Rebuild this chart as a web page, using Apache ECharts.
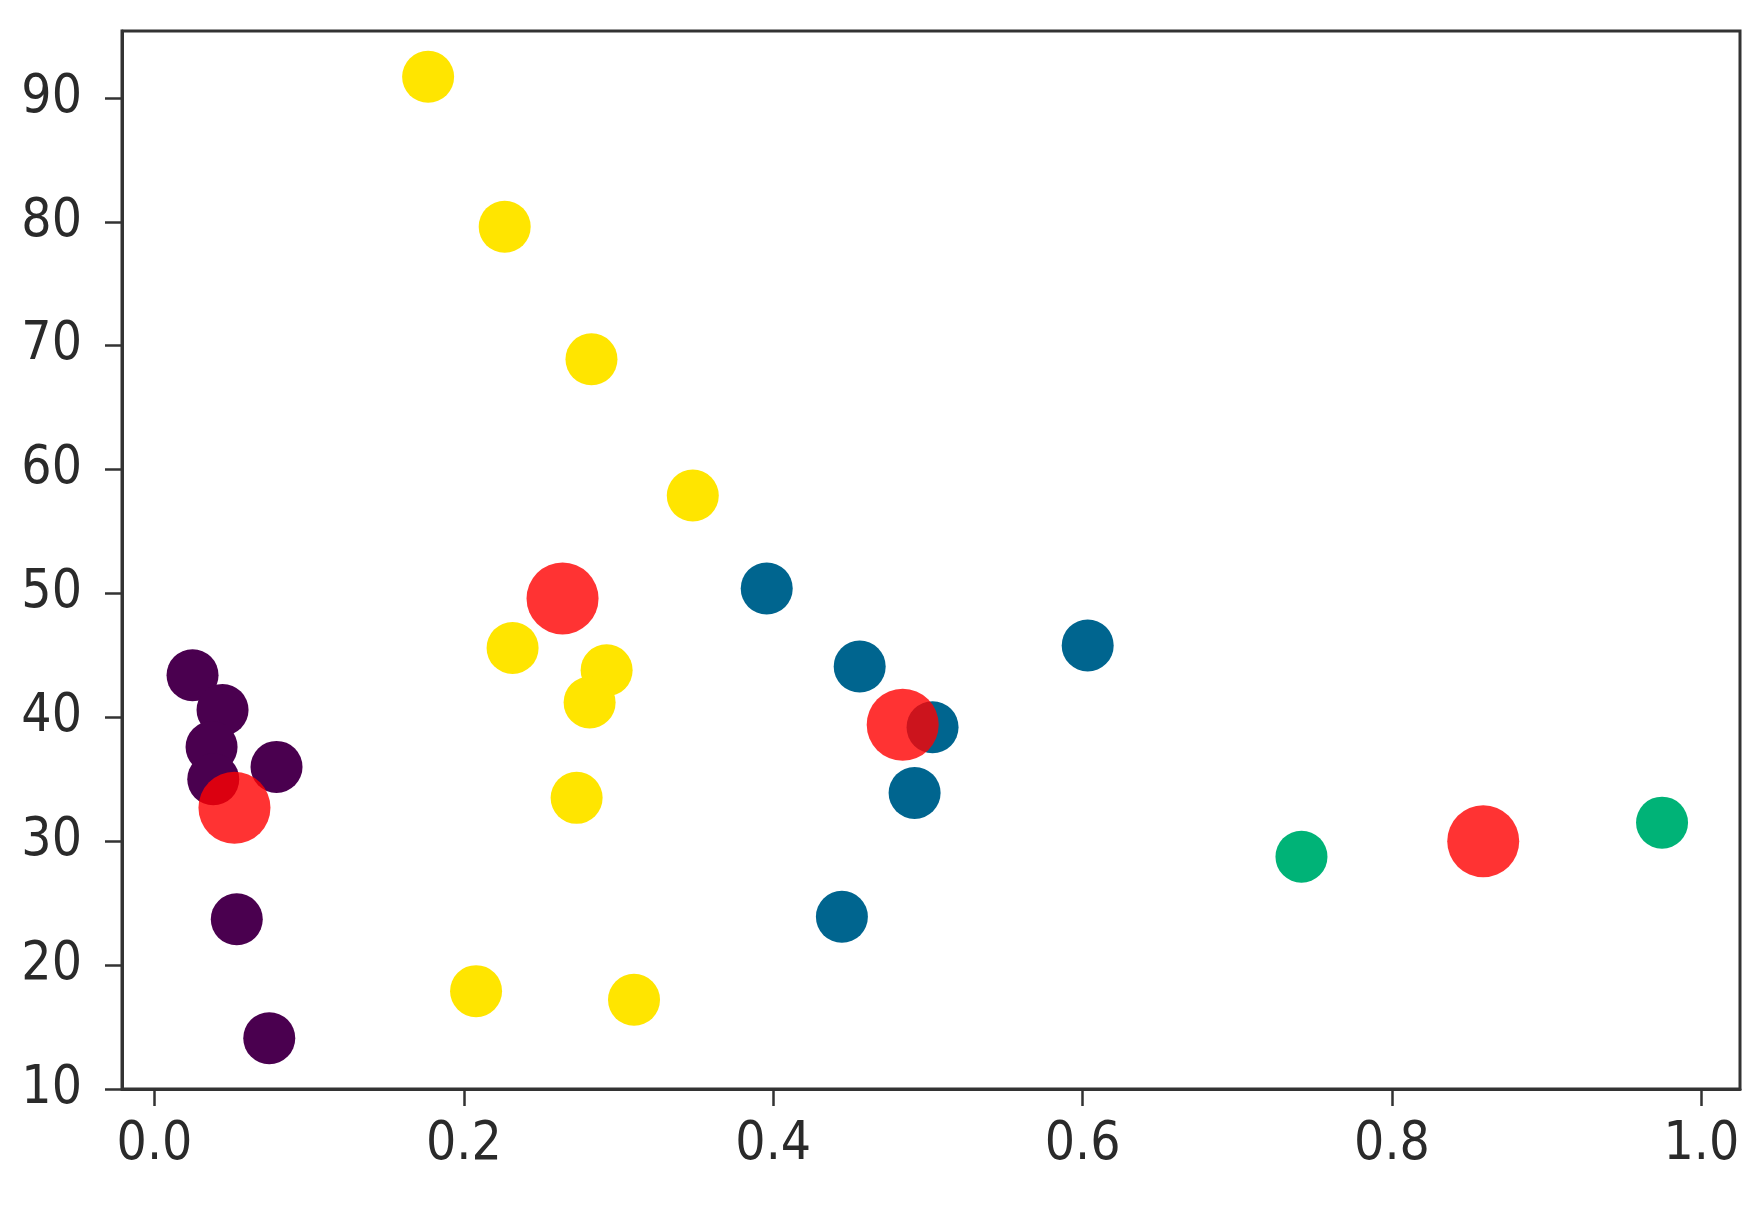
<!DOCTYPE html>
<html>
<head>
<meta charset="utf-8">
<script src="https://cdn.jsdelivr.net/npm/echarts@6/dist/echarts.min.js"></script>
<style>
html,body{margin:0;padding:0;background:#fff;}
#chart{width:1761px;height:1215px;}
</style>
</head>
<body>
<div id="chart"></div>
<script>
// Cluster points [x, y]
const cluster0 = [[0.0246, 43.4], [0.044, 40.6], [0.0369, 37.6], [0.038, 35.0], [0.0789, 36.0], [0.0532, 23.7], [0.0742, 14.1]];
const cluster1 = [[0.3958, 50.4], [0.4559, 44.1], [0.6033, 45.8], [0.503, 39.2], [0.4914, 33.9], [0.4444, 23.9]];
const cluster2 = [[0.7415, 28.75], [0.9746, 31.5]];
const cluster3 = [[0.1769, 91.7], [0.2264, 79.6], [0.2825, 68.9], [0.348, 57.9], [0.2315, 45.6], [0.2923, 43.8], [0.2813, 41.2], [0.2729, 33.5], [0.2079, 17.9], [0.310, 17.2]];
const centroids = [[0.0517, 32.7], [0.2638, 49.6], [0.4837, 39.4], [0.859, 30.0]];
const xTicks = [0, 0.2, 0.4, 0.6, 0.8, 1.0];
const yTicks = [10, 20, 30, 40, 50, 60, 70, 80, 90];

const chart = echarts.init(document.getElementById('chart'), null, {renderer: 'canvas'});
const labelFont = {fontFamily: '"Liberation Sans Narrow", "DejaVu Sans Condensed", "DejaVu Sans"', fontSize: 53, color: '#2a2a2a'};
const tickStyle = {show: true, inside: false, length: 17, lineStyle: {color: '#333', width: 2.5}};

function pts(data, color, size) {
  return {type: 'scatter', data: data, symbol: 'circle', symbolSize: size,
    itemStyle: {color: color, opacity: 1}, silent: true, emphasis: {disabled: true}};
}

chart.setOption({
  animation: false,
  backgroundColor: '#ffffff',
  grid: {left: 122, right: 21, top: 31, bottom: 126, show: true, borderColor: '#333', borderWidth: 3, backgroundColor: 'transparent'},
  xAxis: {
    type: 'value', min: -0.021, max: 1.025,
    splitLine: {show: false},
    axisLine: {show: true, onZero: false, lineStyle: {color: '#333', width: 3}},
    axisTick: Object.assign({customValues: xTicks}, tickStyle),
    axisLabel: Object.assign({customValues: xTicks, margin: 30, formatter: v => v.toFixed(1)}, labelFont)
  },
  yAxis: {
    type: 'value', min: 10, max: 95.4,
    splitLine: {show: false},
    axisLine: {show: true, onZero: false, lineStyle: {color: '#333', width: 3}},
    axisTick: Object.assign({customValues: yTicks}, tickStyle),
    axisLabel: Object.assign({customValues: yTicks, margin: 40, formatter: v => String(v)}, labelFont)
  },
  series: [
    pts(cluster0, '#4a004f', 52),
    pts(cluster1, '#00658f', 52),
    pts(cluster2, '#00b377', 52),
    pts(cluster3, '#ffe500', 52),
    pts(centroids, 'rgba(255,0,0,0.8)', 72)
  ]
});
</script>
</body>
</html>
